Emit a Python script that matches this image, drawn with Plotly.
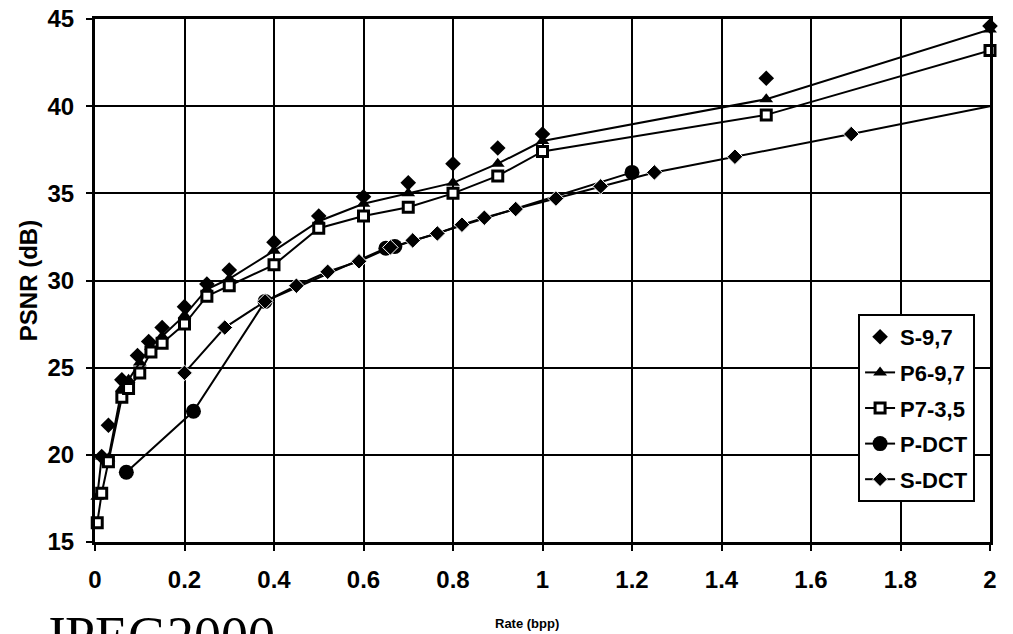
import plotly.graph_objects as go

# ---- data ----
s97_x = [0.015, 0.03, 0.06, 0.095, 0.12, 0.15, 0.2, 0.25, 0.3, 0.4, 0.5, 0.6, 0.7, 0.8, 0.9, 1.0, 1.5, 2.0]
s97_y = [19.9, 21.7, 24.3, 25.7, 26.5, 27.3, 28.5, 29.8, 30.6, 32.2, 33.7, 34.8, 35.6, 36.7, 37.6, 38.4, 41.6, 44.6]

p6_x = [0.005, 0.015, 0.03, 0.06, 0.075, 0.1, 0.125, 0.15, 0.2, 0.25, 0.3, 0.4, 0.5, 0.6, 0.7, 0.8, 0.9, 1.0, 1.5, 2.0]
p6_y = [17.6, 19.9, 19.8, 23.8, 24.3, 25.3, 26.2, 26.8, 28.0, 29.5, 30.1, 31.7, 33.4, 34.4, 35.0, 35.6, 36.7, 38.0, 40.4, 44.4]

p7_x = [0.005, 0.015, 0.03, 0.06, 0.075, 0.1, 0.125, 0.15, 0.2, 0.25, 0.3, 0.4, 0.5, 0.6, 0.7, 0.8, 0.9, 1.0, 1.5, 2.0]
p7_y = [16.1, 17.8, 19.6, 23.3, 23.8, 24.7, 25.9, 26.4, 27.5, 29.1, 29.7, 30.9, 33.0, 33.7, 34.2, 35.0, 36.0, 37.4, 39.5, 43.2]

pdct_x = [0.07, 0.22, 0.38, 0.65, 0.67, 1.2]
pdct_y = [19.0, 22.5, 28.8, 31.85, 31.95, 36.2]

sdct_x = [0.2, 0.29, 0.38, 0.45, 0.52, 0.59, 0.66, 0.71, 0.765, 0.82, 0.87, 0.94, 1.03, 1.13, 1.25, 1.43, 1.69, 2.0]
sdct_y = [24.7, 27.3, 28.8, 29.7, 30.5, 31.1, 31.9, 32.3, 32.7, 33.2, 33.6, 34.1, 34.7, 35.4, 36.2, 37.1, 38.4, 40.0]

x_ticks = [0, 0.2, 0.4, 0.6, 0.8, 1, 1.2, 1.4, 1.6, 1.8, 2]
x_tick_text = ["0", "0.2", "0.4", "0.6", "0.8", "1", "1.2", "1.4", "1.6", "1.8", "2"]
y_ticks = [15, 20, 25, 30, 35, 40, 45]

series_names = ["S-9,7", "P6-9,7", "P7-3,5", "P-DCT", "S-DCT"]

FONT = "Liberation Sans, Arial, sans-serif"

# plot area target in window pixels (page has an 8px body margin)
BODY = 8
PL, PR, PT, PB = 94.5, 990, 19, 542
W, H = 1013, 634
PW, PH = PR - PL, PB - PT

fig = go.Figure()

fig.add_trace(go.Scatter(
    x=s97_x, y=s97_y, name=series_names[0], mode="markers", legendgroup="a",
    marker=dict(symbol="diamond", size=12, color="black", opacity=1), cliponaxis=False))

fig.add_trace(go.Scatter(
    x=p6_x, y=p6_y, name=series_names[1], mode="lines+markers", legendgroup="b",
    line=dict(color="black", width=2),
    marker=dict(symbol="triangle-up", size=12, color="black", opacity=1), cliponaxis=False))

fig.add_trace(go.Scatter(
    x=p7_x, y=p7_y, name=series_names[2], mode="lines+markers", legendgroup="c",
    line=dict(color="black", width=2),
    marker=dict(symbol="square", size=10, color="white", opacity=1,
                line=dict(color="black", width=3)),
    cliponaxis=False))

fig.add_trace(go.Scatter(
    x=pdct_x, y=pdct_y, name=series_names[3], mode="lines+markers", legendgroup="d",
    line=dict(color="black", width=2),
    marker=dict(symbol="circle", size=15, color="black", opacity=1), cliponaxis=False))

sdct_sizes = [12] * (len(sdct_x) - 1) + [0]
fig.add_trace(go.Scatter(
    x=sdct_x, y=sdct_y, name=series_names[4], mode="lines+markers", legendgroup="e",
    line=dict(color="black", width=2),
    marker=dict(symbol="diamond", size=sdct_sizes, color="black", opacity=1), cliponaxis=False))

fig.update_layout(
    width=W, height=H,
    margin=dict(l=PL - BODY, r=W - (PR - BODY), t=PT - BODY, b=H - (PB - BODY)),
    paper_bgcolor="white", plot_bgcolor="white",
    font=dict(family=FONT, color="black"),
    showlegend=True,
    legend=dict(
        x=(858 - PL) / PW, y=(PB - 314) / PH, xanchor="left", yanchor="top",
        bgcolor="white", bordercolor="black", borderwidth=2,
        font=dict(family=FONT, size=22, color="black", weight="bold"),
        tracegroupgap=4, itemsizing="trace", itemwidth=30,
    ),
    xaxis=dict(
        range=[0, 2], tickvals=x_ticks, ticktext=x_tick_text, automargin=False,
        showgrid=True, gridcolor="black", gridwidth=2,
        showline=True, linecolor="black", linewidth=3, mirror=True,
        zeroline=False, ticks="outside", ticklen=6, tickwidth=2, tickcolor="black",
        ticklabelstandoff=8, ticklabeloverflow="allow",
        tickfont=dict(family=FONT, size=24, color="black", weight="bold"),
    ),
    yaxis=dict(
        range=[15, 45], tickvals=y_ticks, automargin=False,
        showgrid=True, gridcolor="black", gridwidth=2,
        showline=True, linecolor="black", linewidth=3, mirror=True,
        zeroline=False, ticks="outside", ticklen=6, tickwidth=2, tickcolor="black",
        ticklabelstandoff=7, ticklabeloverflow="allow",
        tickfont=dict(family=FONT, size=24, color="black", weight="bold"),
        title=dict(text="PSNR (dB)", standoff=4,
                   font=dict(family=FONT, size=24, color="black", weight="bold")),
    ),
    annotations=[
        dict(text="Rate (bpp)", xref="paper", yref="paper",
             x=(527 - PL) / PW, y=(PB - 623) / PH,
             xanchor="center", yanchor="middle", showarrow=False,
             font=dict(family=FONT, size=13, color="black", weight="bold")),
        dict(text="JPEG2000", xref="paper", yref="paper",
             x=(41 - PL) / PW, y=(PB - 604) / PH,
             xanchor="left", yanchor="top", showarrow=False,
             font=dict(family="Liberation Serif, Times New Roman, serif", size=54, color="black")),
    ],
)

fig.write_html("out.html")
